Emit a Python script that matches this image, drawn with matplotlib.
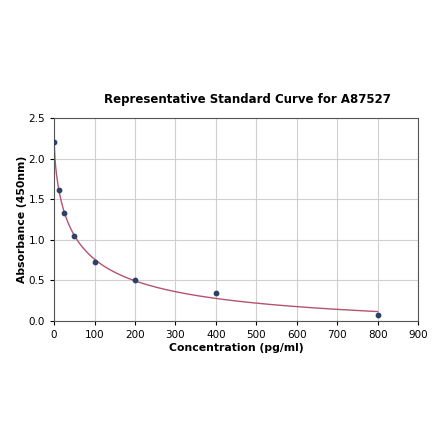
import numpy as np
import matplotlib
matplotlib.use("Agg")
import matplotlib.pyplot as plt

# standard points
conc = np.array([0, 12.5, 25, 50, 100, 200, 400, 800])
absorb = np.array([2.21, 1.62, 1.33, 1.05, 0.73, 0.50, 0.35, 0.07])

xticks = [0, 100, 200, 300, 400, 500, 600, 700, 800, 900]
yticks = [0.0, 0.5, 1.0, 1.5, 2.0, 2.5]


def four_pl(x, p):
    a, b, c, d = p
    return d + (a - d) / (1.0 + (x / c) ** b)


def fit_4pl(x, y, p0, n_iter=300):
    # small Levenberg-Marquardt, no scipy needed
    p = np.array(p0, dtype=float)
    lam = 1e-2
    for _ in range(n_iter):
        r = y - four_pl(x, p)
        J = np.zeros((len(x), len(p)))
        for i in range(len(p)):
            dp = np.zeros_like(p)
            dp[i] = 1e-6 * max(abs(p[i]), 1e-3)
            J[:, i] = (four_pl(x, p + dp) - four_pl(x, p - dp)) / (2 * dp[i])
        A = J.T @ J
        g = J.T @ r
        step = np.linalg.solve(A + lam * np.diag(np.diag(A)), g)
        pn = p + step
        if pn[2] > 0 and pn[1] > 0 and np.sum((y - four_pl(x, pn)) ** 2) < np.sum(r ** 2):
            p = pn
            lam *= 0.5
        else:
            lam *= 3
    return p


params = fit_4pl(conc, absorb, [2.2, 0.7, 60.0, -0.3])
xs = np.linspace(0, conc.max(), 400)
ys = four_pl(xs, params)

fig = plt.figure(figsize=(4.4, 4.41), dpi=100)
ax = fig.add_axes([0.123, 0.272, 0.827, 0.46])

ax.plot(xs, ys, color="#b5536f", lw=1.0, zorder=2)
ax.scatter(conc, absorb, s=10, color="#2b4266", zorder=3)

ax.set_xlim(0, 900)
ax.set_ylim(0, 2.5)
ax.set_xticks(xticks)
ax.set_yticks(yticks)
ax.tick_params(labelsize=7.5, length=3)
ax.grid(True, color="#d0d0d0", lw=0.8)
ax.set_axisbelow(True)
for s in ax.spines.values():
    s.set_color("#555555")

ax.set_xlabel("Concentration (pg/ml)", fontsize=7.8, fontweight="bold", labelpad=2)
ax.set_ylabel("Absorbance (450nm)", fontsize=7.8, fontweight="bold", labelpad=1)
ax.set_title("Representative Standard Curve for A87527", fontsize=8.5,
             fontweight="bold", pad=11, x=0.53)

fig.savefig("out.png", dpi=100)
